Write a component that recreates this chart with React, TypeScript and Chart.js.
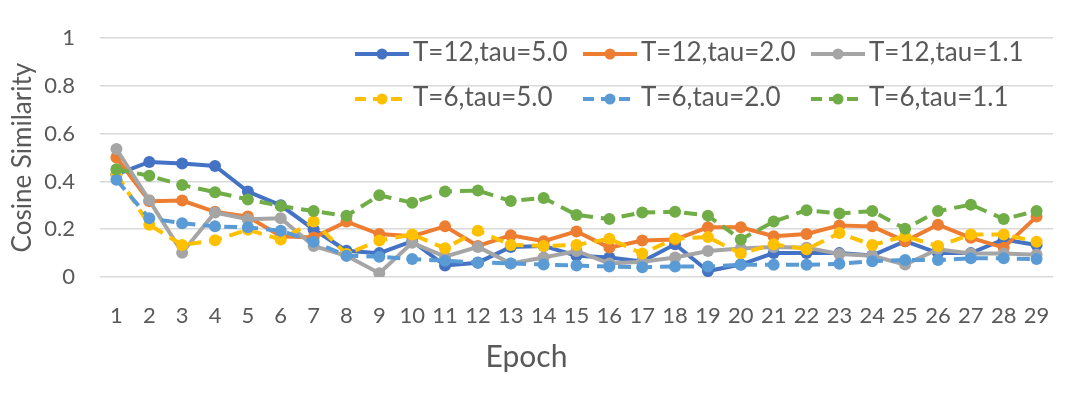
import React, { useEffect, useRef } from "react";
import { Chart, registerables } from "chart.js";

Chart.register(...registerables);

const epochs = ["1","2","3","4","5","6","7","8","9","10","11","12","13","14","15","16","17","18","19","20","21","22","23","24","25","26","27","28","29"];

const t12tau50 = [0.43,0.482,0.475,0.465,0.358,0.30,0.20,0.11,0.10,0.15,0.048,0.06,0.126,0.13,0.089,0.082,0.065,0.137,0.025,0.052,0.10,0.10,0.10,0.09,0.15,0.10,0.10,0.157,0.134];
const t12tau20 = [0.50,0.317,0.32,0.273,0.253,0.171,0.165,0.232,0.18,0.171,0.212,0.13,0.175,0.15,0.191,0.123,0.153,0.157,0.208,0.208,0.171,0.18,0.216,0.212,0.15,0.219,0.164,0.123,0.253];
const t12tau11 = [0.536,0.321,0.102,0.27,0.242,0.246,0.13,0.089,0.016,0.143,0.085,0.126,0.057,0.082,0.109,0.057,0.064,0.082,0.109,0.119,0.126,0.123,0.096,0.089,0.052,0.116,0.098,0.098,0.093];
const t6tau50 = [0.43,0.219,0.134,0.154,0.198,0.157,0.232,0.096,0.153,0.178,0.12,0.194,0.134,0.13,0.134,0.16,0.098,0.161,0.167,0.098,0.137,0.116,0.184,0.134,0.171,0.13,0.178,0.178,0.148];
const t6tau20 = [0.407,0.246,0.225,0.212,0.208,0.194,0.148,0.089,0.085,0.075,0.068,0.061,0.057,0.052,0.048,0.044,0.041,0.044,0.044,0.051,0.051,0.051,0.055,0.066,0.071,0.071,0.078,0.078,0.075];
const t6tau11 = [0.451,0.424,0.385,0.355,0.325,0.297,0.276,0.256,0.342,0.311,0.358,0.362,0.318,0.331,0.26,0.243,0.27,0.273,0.257,0.157,0.232,0.28,0.266,0.276,0.202,0.276,0.303,0.243,0.276];

const seriesNames = ["T=12,tau=5.0","T=12,tau=2.0","T=12,tau=1.1","T=6,tau=5.0","T=6,tau=2.0","T=6,tau=1.1"];
const seriesValues = [t12tau50, t12tau20, t12tau11, t6tau50, t6tau20, t6tau11];
const seriesColors = ["#4472C4","#ED7D31","#A5A5A5","#FFC000","#5B9BD5","#70AD47"];
const seriesDashed = [false,false,false,true,true,true];
const yTicks = [0, 0.2, 0.4, 0.6, 0.8, 1];

const FONT = "Lato, 'Open Sans', sans-serif";
const TEXT = "#595959";

const legendPlugin = {
  id: "customLegend",
  afterDraw(chart: any) {
    const ctx = chart.ctx;
    const colX = [355, 583, 811];
    const rowY = [54, 99];
    ctx.save();
    chart.data.datasets.forEach((ds: any, i: number) => {
      const x = colX[i % 3];
      const y = rowY[Math.floor(i / 3)];
      ctx.strokeStyle = ds.borderColor;
      ctx.lineWidth = 4;
      ctx.setLineDash(ds.borderDash && ds.borderDash.length ? [11, 7] : []);
      ctx.beginPath();
      ctx.moveTo(x, y);
      ctx.lineTo(x + 54, y);
      ctx.stroke();
      ctx.setLineDash([]);
      ctx.fillStyle = ds.borderColor;
      ctx.beginPath();
      ctx.arc(x + 27, y, 5.5, 0, Math.PI * 2);
      ctx.fill();
      ctx.fillStyle = TEXT;
      ctx.font = `26px ${FONT}`;
      ctx.textBaseline = "middle";
      ctx.textAlign = "left";
      ctx.fillText(ds.label, x + 58, y - 1);
    });
    ctx.restore();
  },
};

export default function App() {
  const ref = useRef<HTMLCanvasElement | null>(null);
  useEffect(() => {
    document.body.style.margin = "0";
    const datasets = seriesNames.map((name, i) => ({
      label: name,
      data: seriesValues[i],
      borderColor: seriesColors[i],
      backgroundColor: seriesColors[i],
      pointBackgroundColor: seriesColors[i],
      pointBorderColor: seriesColors[i],
      borderWidth: 4,
      borderDash: seriesDashed[i] ? [13, 8] : [],
      pointRadius: 6,
      pointBorderWidth: 0,
      tension: 0,
      order: 5 - i,
    }));
    const chart = new Chart(ref.current as HTMLCanvasElement, {
      type: "line",
      data: { labels: epochs, datasets },
      options: {
        animation: false,
        responsive: true,
        maintainAspectRatio: false,
        layout: { padding: { top: 33, right: 27, bottom: 0, left: 0 } },
        plugins: {
          legend: { display: false },
          tooltip: { enabled: false },
          title: {
            display: true,
            position: "bottom",
            text: "Epoch",
            color: TEXT,
            font: { family: FONT, size: 30, weight: "normal" },
            padding: { top: 0, bottom: 22 },
          },
        },
        scales: {
          x: {
            offset: true,
            grid: { display: false },
            border: { display: false },
            ticks: { color: TEXT, font: { family: FONT, size: 22 }, padding: 18, maxRotation: 0, autoSkip: false },
            afterFit: (s: any) => { s.height = 62; },
          },
          y: {
            min: 0,
            max: 1,
            afterBuildTicks: (s: any) => { s.ticks = yTicks.map((v) => ({ value: v })); },
            grid: { color: "#D9D9D9", lineWidth: 1.5, drawTicks: false },
            border: { display: false },
            ticks: { color: TEXT, font: { family: FONT, size: 22 }, padding: 25, callback: (v: any) => String(v) },
            title: { display: true, text: "Cosine Similarity", color: TEXT, font: { family: FONT, size: 26 }, padding: { top: 7, bottom: 0 } },
            afterFit: (s: any) => { s.width = 100; },
          },
        },
      },
      plugins: [legendPlugin],
    });
    return () => chart.destroy();
  }, []);
  return (
    <div style={{ position: "fixed", left: 0, top: 0, width: 1080, height: 397 }}>
      <canvas ref={ref} />
    </div>
  );
}
